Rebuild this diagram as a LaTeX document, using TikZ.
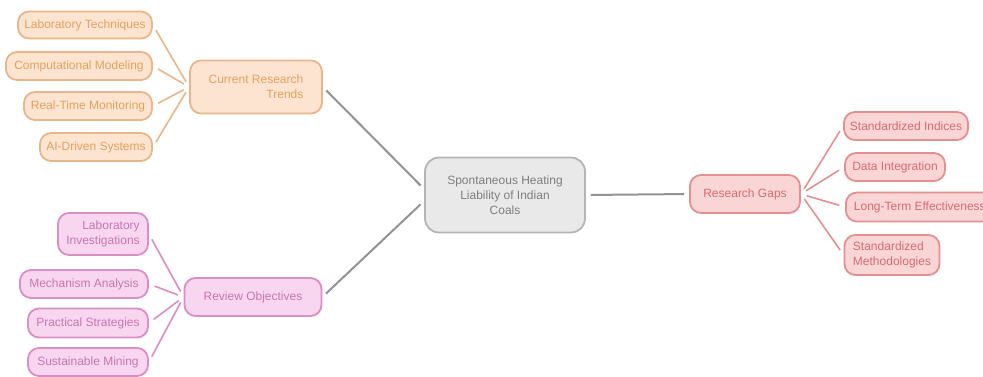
\documentclass[tikz,border=0pt]{standalone}
\usepackage{fontspec}
\setmainfont{Liberation Sans}

\definecolor{orfill}{HTML}{FCE4D0}
\definecolor{ordraw}{HTML}{E9B68C}
\definecolor{ortext}{HTML}{E2A15F}
\definecolor{pkfill}{HTML}{F9D6EF}
\definecolor{pkdraw}{HTML}{DA8EC4}
\definecolor{pktext}{HTML}{C676B0}
\definecolor{rdfill}{HTML}{FAD5D6}
\definecolor{rddraw}{HTML}{E39090}
\definecolor{rdtext}{HTML}{D46C6E}
\definecolor{gyfill}{HTML}{E9E9E9}
\definecolor{gydraw}{HTML}{B4B4B4}
\definecolor{gytext}{HTML}{7E7E7E}

\begin{document}
\begin{tikzpicture}[x=1pt, y=-1pt,
  font=\fontsize{12}{15}\selectfont,
  box/.style={draw, line width=1.8pt, rounded corners=11pt, inner sep=2pt},
  orbox/.style={box, fill=orfill, draw=ordraw, text=ortext},
  pkbox/.style={box, fill=pkfill, draw=pkdraw, text=pktext},
  rdbox/.style={box, fill=rdfill, draw=rddraw, text=rdtext},
  twig/.style={line width=1.6pt, shorten <=6pt, shorten >=6pt},
  branch/.style={line width=2pt, draw=gray!85, shorten <=5pt, shorten >=5pt}]
\useasboundingbox (0,0) rectangle (983,376);
\node[box, fill=gyfill, draw=gydraw, text=gytext, rounded corners=14pt,
  minimum width=160pt, minimum height=75pt, align=center] (C) at (505,195)
  {Spontaneous Heating\\Liability of Indian\\Coals};
% current research trends
\node[orbox, minimum width=132pt, minimum height=53pt, align=right] (CRT) at (256,87) {Current Research\\Trends};
\node[orbox, minimum width=134pt, minimum height=27pt] (T0) at (85,25) {Laboratory Techniques};
\node[orbox, minimum width=146pt, minimum height=28pt] (T1) at (79,66) {Computational Modeling};
\node[orbox, minimum width=128pt, minimum height=28pt] (T2) at (88,106) {Real-Time Monitoring};
\node[orbox, minimum width=112pt, minimum height=28pt] (T3) at (96,147) {AI-Driven Systems};
% review objectives
\node[pkbox, minimum width=137pt, minimum height=38pt] (RO) at (253,297) {Review Objectives};
\node[pkbox, minimum width=90pt, minimum height=42pt, align=right] (O0) at (103,234) {Laboratory\\Investigations};
\node[pkbox, minimum width=128pt, minimum height=28pt] (O1) at (84,284) {Mechanism Analysis};
\node[pkbox, minimum width=120pt, minimum height=29pt] (O2) at (88,323) {Practical Strategies};
\node[pkbox, minimum width=120pt, minimum height=28pt] (O3) at (88,362) {Sustainable Mining};
% research gaps
\node[rdbox, minimum width=110pt, minimum height=38pt] (RG) at (745,194) {Research Gaps};
\node[rdbox, minimum width=124pt, minimum height=28pt] (G0) at (906,126) {Standardized Indices};
\node[rdbox, minimum width=100pt, minimum height=28pt] (G1) at (895,167) {Data Integration};
\node[rdbox, minimum height=29pt, inner xsep=8pt, anchor=west] (G2) at (845,207) {Long-Term Effectiveness};
\node[rdbox, minimum width=95pt, minimum height=40pt, align=left] (G3) at (892,255) {Standardized\\Methodologies};

\draw[branch] (CRT.east) -- ([yshift=6pt]C.west);
\draw[branch] (RO.east) -- ([yshift=-6pt]C.west);
\draw[branch] (C.east) -- (RG.west);
\foreach \n in {T0,T1,T2,T3}
  \draw[twig, draw=ordraw] (CRT.west) -- (\n.east);
\foreach \n in {O0,O1,O2,O3}
  \draw[twig, draw=pkdraw] (RO.west) -- (\n.east);
\foreach \n in {G0,G1,G2,G3}
  \draw[twig, draw=rddraw] (RG.east) -- (\n.west);
\end{tikzpicture}
\end{document}
